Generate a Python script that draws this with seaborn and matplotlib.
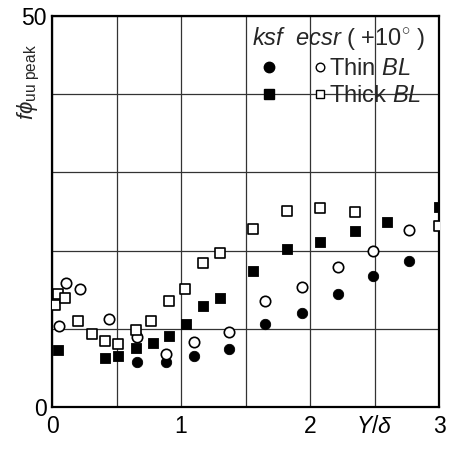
import matplotlib
matplotlib.use('Agg')
import matplotlib.pyplot as plt
from matplotlib.lines import Line2D
import seaborn as sns
import pandas as pd

# Thin BL, ksf (filled circles)
thin_ksf_x = [0.66, 0.88, 1.10, 1.37, 1.65, 1.94, 2.22, 2.49, 2.77]
thin_ksf_y = [5.75, 5.75, 6.5, 7.4, 10.6, 12.0, 14.5, 16.7, 18.7]
# Thin BL, ecsr (open circles)
thin_ecsr_x = [0.054, 0.106, 0.22, 0.44, 0.66, 0.88, 1.10, 1.37, 1.65, 1.94, 2.22, 2.49, 2.77]
thin_ecsr_y = [10.4, 15.9, 15.1, 11.2, 9.0, 6.8, 8.35, 9.6, 13.5, 15.4, 17.9, 19.9, 22.6]
# Thick BL, ksf (filled squares)
thick_ksf_x = [0.05, 0.41, 0.51, 0.65, 0.78, 0.91, 1.04, 1.17, 1.30, 1.56, 1.82, 2.08, 2.35, 2.60, 3.0]
thick_ksf_y = [7.3, 6.3, 6.5, 7.5, 8.2, 9.1, 10.6, 12.9, 14.0, 17.35, 20.2, 21.1, 22.5, 23.7, 25.6]
# Thick BL, ecsr (open squares)
thick_ecsr_x = [0.023, 0.05, 0.10, 0.20, 0.31, 0.41, 0.51, 0.65, 0.77, 0.91, 1.03, 1.17, 1.30, 1.56, 1.82, 2.08, 2.35, 3.0]
thick_ecsr_y = [13.1, 14.4, 14.0, 11.0, 9.3, 8.4, 8.1, 9.8, 11.0, 13.6, 15.1, 18.4, 19.65, 22.7, 25.1, 25.4, 24.9, 23.1]

x_ticks = [0, 0.5, 1, 1.5, 2, 2.5, 3]
x_tick_labels = ['0', '', '1', '', '2', r'$Y/\delta$', '3']
y_ticks = [0, 10, 20, 30, 40, 50]
y_tick_labels = ['0', '', '', '', '', '50']
legend_title = r'$ksf$  $ecsr$ ( +10$^{\circ}$ )'
legend_labels = ['', '', r'Thin $BL$', r'Thick $BL$']

sns.set_style('white')
plt.rcParams['font.family'] = ['Liberation Sans', 'DejaVu Sans']
plt.rcParams['mathtext.fontset'] = 'custom'
plt.rcParams['mathtext.rm'] = 'Liberation Sans'
plt.rcParams['mathtext.it'] = 'Liberation Sans:italic'
plt.rcParams['mathtext.bf'] = 'Liberation Sans:bold'

fig = plt.figure(figsize=(4.5, 4.49), dpi=100)
ax = fig.add_axes([0.1156, 0.0935, 0.86, 0.8709])

def df(x, y):
    return pd.DataFrame({'x': x, 'y': y})

sns.scatterplot(data=df(thin_ksf_x, thin_ksf_y), x='x', y='y', ax=ax, marker='o',
                s=56, color='black', edgecolor='black', linewidth=0.6, zorder=3)
sns.scatterplot(data=df(thin_ecsr_x, thin_ecsr_y), x='x', y='y', ax=ax, marker='o',
                s=56, facecolor='white', edgecolor='black', linewidth=1.2, zorder=3)
sns.scatterplot(data=df(thick_ksf_x, thick_ksf_y), x='x', y='y', ax=ax, marker='s',
                s=56, color='black', edgecolor='black', linewidth=0.6, zorder=3)
sns.scatterplot(data=df(thick_ecsr_x, thick_ecsr_y), x='x', y='y', ax=ax, marker='s',
                s=58, facecolor='white', edgecolor='black', linewidth=1.2, zorder=3)

ax.set_xlim(0, 3)
ax.set_ylim(0, 50)
ax.set_xticks(x_ticks)
ax.set_xticklabels(x_tick_labels)
ax.set_yticks(y_ticks)
ax.set_yticklabels(y_tick_labels)
ax.tick_params(length=0, labelsize=16.5, colors='black')
ax.tick_params(axis='x', pad=6)
ax.tick_params(axis='y', pad=4)
ax.grid(True, color='#333333', linewidth=0.9)
ax.set_axisbelow(True)
for s in ax.spines.values():
    s.set_color('black')
    s.set_linewidth(1.6)
ax.set_xlabel('')
ax.set_ylabel(r'$f\phi_{\mathrm{uu\ peak}}$', fontsize=16)
ax.yaxis.set_label_coords(-0.027, 0.83)

ax.text(0.517, 0.926, legend_title, transform=ax.transAxes, fontsize=17,
        ha='left', va='baseline')

handles = [
    Line2D([], [], marker='o', ls='', color='black', markersize=7.5),
    Line2D([], [], marker='s', ls='', color='black', markersize=7.5),
    Line2D([], [], marker='o', ls='', markerfacecolor='white', markeredgecolor='black', markersize=6.2, mew=1),
    Line2D([], [], marker='s', ls='', markerfacecolor='white', markeredgecolor='black', markersize=6.2, mew=1),
]
leg = ax.legend(handles, legend_labels, ncol=2, frameon=False, loc='upper left',
                bbox_to_anchor=(0.523, 0.91), fontsize=17,
                handletextpad=0.1, columnspacing=1.46, labelspacing=0.22,
                handlelength=0.6, borderaxespad=0.0, borderpad=0.3)

fig.savefig('out.png', dpi=100)
